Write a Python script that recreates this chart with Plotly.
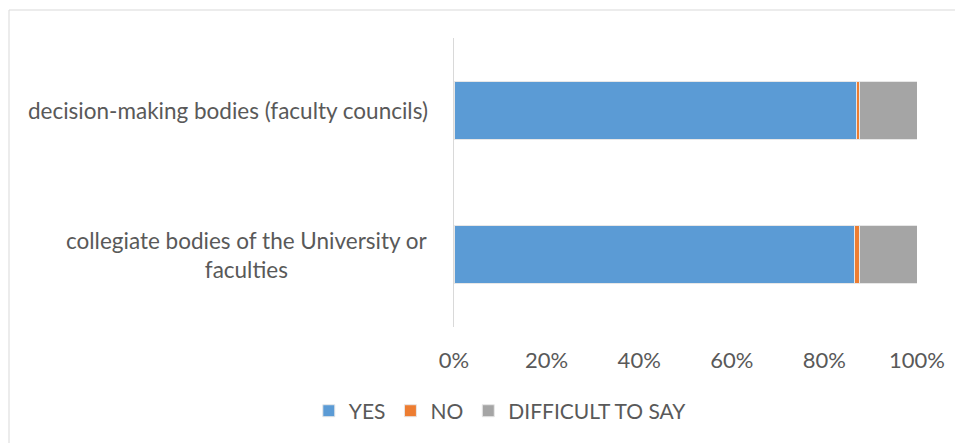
import plotly.graph_objects as go

# data
categories = ["collegiate bodies of the University or<br>faculties",
              "decision-making bodies (faculty councils)"]
yes_vals = [86.5, 86.9]
no_vals = [1.1, 0.6]
hard_vals = [12.4, 12.5]
tick_vals = [0, 20, 40, 60, 80, 100]
tick_text = ["0%", "20%", "40%", "60%", "80%", "100%"]

# page has an 8px body margin, so the figure is a bit smaller
W, H = 955, 435
L, R, T, B = 446, 46, 30, 116
FONT = "Lato, 'Open Sans', sans-serif"
GREY = "#595959"

series = [
    ("YES", yes_vals, "#5b9bd5"),
    ("NO", no_vals, "#ed7d31"),
    ("DIFFICULT TO SAY", hard_vals, "#a5a5a5"),
]

fig = go.Figure()
for name, vals, col in series:
    fig.add_trace(go.Bar(
        name=name, x=vals, y=list(range(len(categories))), orientation="h",
        marker=dict(color=col, line=dict(color="#e7e7e7", width=1)),
        hovertemplate=f"{name}: %{{x}}%<extra></extra>",
    ))

# category labels as annotations so wrapped lines are centered
for i, cat in enumerate(categories):
    fig.add_annotation(
        x=-0.051, xref="paper", y=i, yref="y", text=cat, showarrow=False,
        xanchor="right", align="center",
        font=dict(family=FONT, size=22.5, color=GREY),
    )

# outer chart border
pw, ph = W - L - R, H - T - B
fig.add_shape(type="rect", xref="paper", yref="paper",
              x0=(1 - L) / pw, x1=(W + 5 - L) / pw,
              y0=-(H + 5 - T - ph) / ph, y1=(H - 2 - B) / ph,
              line=dict(color="#d9d9d9", width=1), fillcolor="rgba(0,0,0,0)",
              layer="below")

fig.update_layout(
    width=W, height=H,
    margin=dict(l=L, r=R, t=T, b=B),
    barmode="stack", bargap=0.6,
    plot_bgcolor="white", paper_bgcolor="white",
    font=dict(family=FONT, size=22, color=GREY),
    xaxis=dict(range=[0, 100], tickvals=tick_vals, ticktext=tick_text,
               showgrid=False, zeroline=False, showline=False,
               tickfont=dict(size=22, color=GREY), ticks="outside",
               ticklen=14, tickcolor="rgba(0,0,0,0)"),
    yaxis=dict(range=[-0.5, 1.5], showticklabels=False, showgrid=False,
               zeroline=False, showline=True, linecolor="#d9d9d9", linewidth=1,
               ticks=""),
    legend=dict(orientation="h", x=0.1, xanchor="center", y=-0.22,
                yanchor="top", font=dict(size=21, color=GREY),
                itemwidth=30, traceorder="normal"),
    showlegend=True,
)

fig.write_html("out.html")
